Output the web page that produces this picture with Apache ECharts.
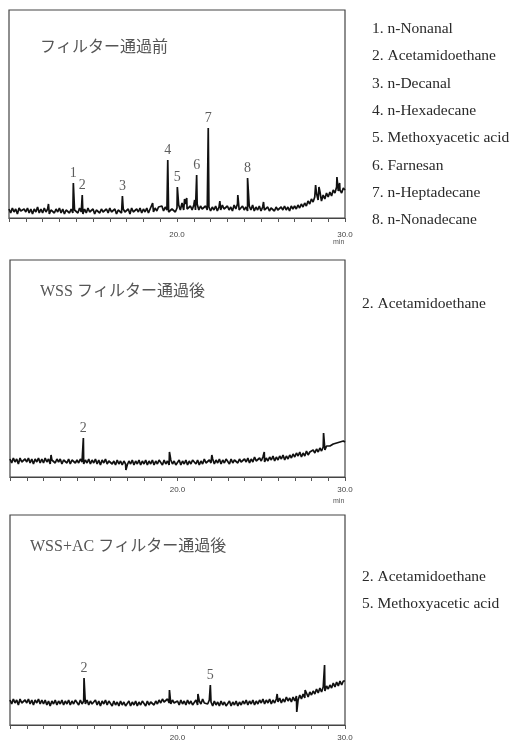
<!DOCTYPE html>
<html><head><meta charset="utf-8">
<script src="https://cdn.jsdelivr.net/npm/echarts@6/dist/echarts.min.js"></script>
<style>html,body{margin:0;padding:0;background:#fff}#c{width:517px;height:742px}</style>
</head><body><div id="c"></div>
<script>
// retention time axis (min)
const tStart = 10, tStep = 0.1, tMin = 10, tMax = 30;
const tickLabels = [20, 30];

const panelTitles = ['フィルター通過前', 'WSS フィルター通過後', 'WSS+AC フィルター通過後'];
const compoundLists = [
  ['1. n-Nonanal', '2. Acetamidoethane', '3. n-Decanal', '4. n-Hexadecane', '5. Methoxyacetic acid', '6. Farnesan', '7. n-Heptadecane', '8. n-Nonadecane'],
  ['2. Acetamidoethane'],
  ['2. Acetamidoethane', '5. Methoxyacetic acid']
];

// baseline signal (arbitrary intensity), sampled every 0.1 min from 10.0 to 30.0
const base1 = [
  9,5,10,6,9,4,10,7,5,9,  6,10,5,9,4,9,6,11,5,9,  5,10,6,9,4,8,10,5,9,6,  10,5,9,4,8,10,5,9,5,8,
  9,5,10,6,4,9,5,10,6,5,  9,4,8,10,5,9,6,4,9,5,  10,6,5,9,4,8,10,5,9,6,  5,9,4,10,6,5,9,6,10,5,
  9,6,10,5,9,11,6,10,7,11,  10,12,7,11,8,6,4,9,11,6,  10,13,8,15,8,14,9,7,12,8,  13,8,14,8,12,9,7,12,8,11,
  7,11,8,12,7,11,8,13,9,8,  12,8,11,7,13,9,14,8,7,12,  8,11,7,12,8,13,7,11,8,12,  7,11,8,6,11,7,10,12,7,11,
  8,7,11,8,12,8,11,7,12,9,  12,9,13,10,14,11,15,12,17,14,  19,16,21,25,18,27,17,23,19,25,  21,26,22,28,25,31,27,28,25,30,
  28
];
const base2 = [
  18,14,19,15,18,13,19,15,14,18,  15,19,14,18,13,18,15,19,14,18,  14,19,15,18,13,17,19,14,18,15,  18,13,17,19,14,18,13,17,19,14,
  17,14,18,15,13,17,14,18,13,17,  14,18,13,17,12,17,14,18,13,16,  17,13,16,12,17,13,16,12,16,13,  12,16,13,17,12,16,13,17,12,16,
  13,17,12,16,13,17,12,16,13,17,  16,12,17,13,16,12,17,13,16,12,  13,17,12,16,13,17,12,16,13,17,  16,13,17,12,16,13,18,14,13,17,
  14,18,13,17,14,18,13,17,14,18,  17,13,18,14,17,19,14,18,15,14,  18,15,19,14,18,15,20,16,15,19,  16,20,15,19,16,20,17,21,16,20,
  17,21,18,22,17,21,18,22,19,23,  20,24,21,25,20,24,21,26,22,25,  23,27,24,28,25,29,26,30,27,31,  29,31,31,33,32,34,33,35,34,36,
  35
];
const base3 = [
  25,21,26,22,25,20,26,22,21,25,  22,26,21,25,20,25,22,26,21,25,  21,25,20,24,19,24,21,25,20,24,  21,25,20,24,21,25,20,24,21,25,
  24,20,25,21,24,21,25,20,24,21,  21,25,20,24,19,24,21,25,20,24,  23,19,24,20,23,19,24,20,23,19,  20,24,19,23,20,24,19,23,20,24,
  23,19,24,20,23,25,20,24,21,25,  22,26,23,21,26,22,21,25,22,20,  24,20,25,21,24,20,25,21,24,20,  21,25,20,24,21,26,22,20,21,25,
  23,19,24,20,23,19,24,20,23,19,  20,24,19,23,20,24,19,23,20,24,  21,25,20,24,21,25,20,24,21,25,  22,26,21,25,22,26,21,25,22,26,
  23,27,22,26,23,28,24,27,23,28,  24,29,25,30,26,31,27,32,28,33,  30,34,31,36,32,37,33,38,34,39,  36,40,37,42,38,43,39,44,40,44,
  44
];

// peaks: [retention time, intensity, peak number ('' = unlabelled)]
const peaks1 = [
  [13.83,35,'1'],[14.36,23,'2'],[16.75,22,'3'],[19.45,58,'4'],[20.02,31,'5'],[21.17,43,'6'],[21.86,90,'7'],[24.2,40,'8'],
  [12.35,14,''],[18.55,15,''],[20.45,19,''],[20.58,20,''],[21.05,18,''],[22.55,17,''],[23.62,23,''],[25.15,16,''],
  [28.25,33,''],[28.45,31,''],[29.52,41,''],[29.68,35,'']
];
const peaks2 = [
  [14.38,39,'2'],[16.92,7,''],[19.52,25,''],[25.18,25,''],[28.72,44,''],[12.45,22,''],[22.05,22,'']
];
const peaks3 = [
  [14.42,47,'2'],[21.96,40,'5'],[19.52,35,''],[21.22,31,''],[27.12,13,''],[25.95,31,''],[27.62,35,''],[28.78,60,'']
];

const bases = [base1, base2, base3];
const peakSets = [peaks1, peaks2, peaks3];
const grids = [
  {left: 9, top: 10, width: 336, height: 208},
  {left: 10, top: 260, width: 335, height: 217},
  {left: 10, top: 515, width: 335, height: 210}
];
const labelMargins = [13, 9, 9];

function buildTrace(base, peaks) {
  const pts = base.map((v, i) => [+(tStart + i * tStep).toFixed(2), v]);
  peaks.forEach(p => pts.push([p[0], p[1]]));
  pts.sort((a, b) => a[0] - b[0]);
  return pts;
}

const serifJP = '"Liberation Serif", "Noto Sans CJK JP", serif';
const series = [], xAxis = [], yAxis = [], graphic = [];

grids.forEach((g, i) => {
  grids[i] = Object.assign({show: true, borderColor: '#444', borderWidth: 1.2, backgroundColor: 'transparent'}, g);
  xAxis.push({
    gridIndex: i, type: 'value', min: tMin, max: tMax, interval: 1,
    axisLine: {lineStyle: {color: '#444', width: 1.2}},
    axisTick: {show: true, length: 4, lineStyle: {color: '#555'}},
    splitLine: {show: false},
    axisLabel: {
      color: '#444', fontSize: 8, fontFamily: 'Liberation Sans', margin: labelMargins[i],
      showMaxLabel: true,
      formatter: v => tickLabels.includes(v) ? v.toFixed(1) : ''
    }
  });
  yAxis.push({gridIndex: i, type: 'value', min: 0, max: g.height, show: false});
  series.push({
    type: 'line', xAxisIndex: i, yAxisIndex: i, showSymbol: false, animation: false,
    data: buildTrace(bases[i], peakSets[i]),
    lineStyle: {color: '#111', width: 1.7}
  });
  series.push({
    type: 'scatter', xAxisIndex: i, yAxisIndex: i, symbolSize: 0, animation: false,
    data: peakSets[i].filter(p => p[2]).map(p => ({value: [p[0], p[1]], name: p[2]})),
    label: {show: true, position: 'top', distance: 3, formatter: '{b}', color: '#333', fontSize: 14, fontFamily: '"Liberation Serif", serif'}
  });
  graphic.push({
    type: 'text', left: [40, 40, 30][i], top: [g.top + 30, g.top + 24, g.top + 24][i],
    style: {text: panelTitles[i], fill: '#555', font: '16px ' + serifJP}
  });
  const lx = i === 0 ? 372 : 362;
  const ly = [30, 305, 578][i];
  compoundLists[i].forEach((txt, k) => {
    graphic.push({
      type: 'text', left: lx, top: ly + k * 27.3 - 9,
      style: {text: txt, fill: '#2a2a2a', font: '15.5px "Liberation Serif", serif'}
    });
  });
});
// "min" unit labels
graphic.push({type: 'text', left: 333, top: 239, style: {text: 'min', fill: '#555', font: '7px "Liberation Sans", sans-serif'}});
graphic.push({type: 'text', left: 333, top: 498, style: {text: 'min', fill: '#555', font: '7px "Liberation Sans", sans-serif'}});

const chart = echarts.init(document.getElementById('c'), null, {renderer: 'canvas'});
chart.setOption({animation: false, grid: grids, xAxis, yAxis, series, graphic});
</script></body></html>
